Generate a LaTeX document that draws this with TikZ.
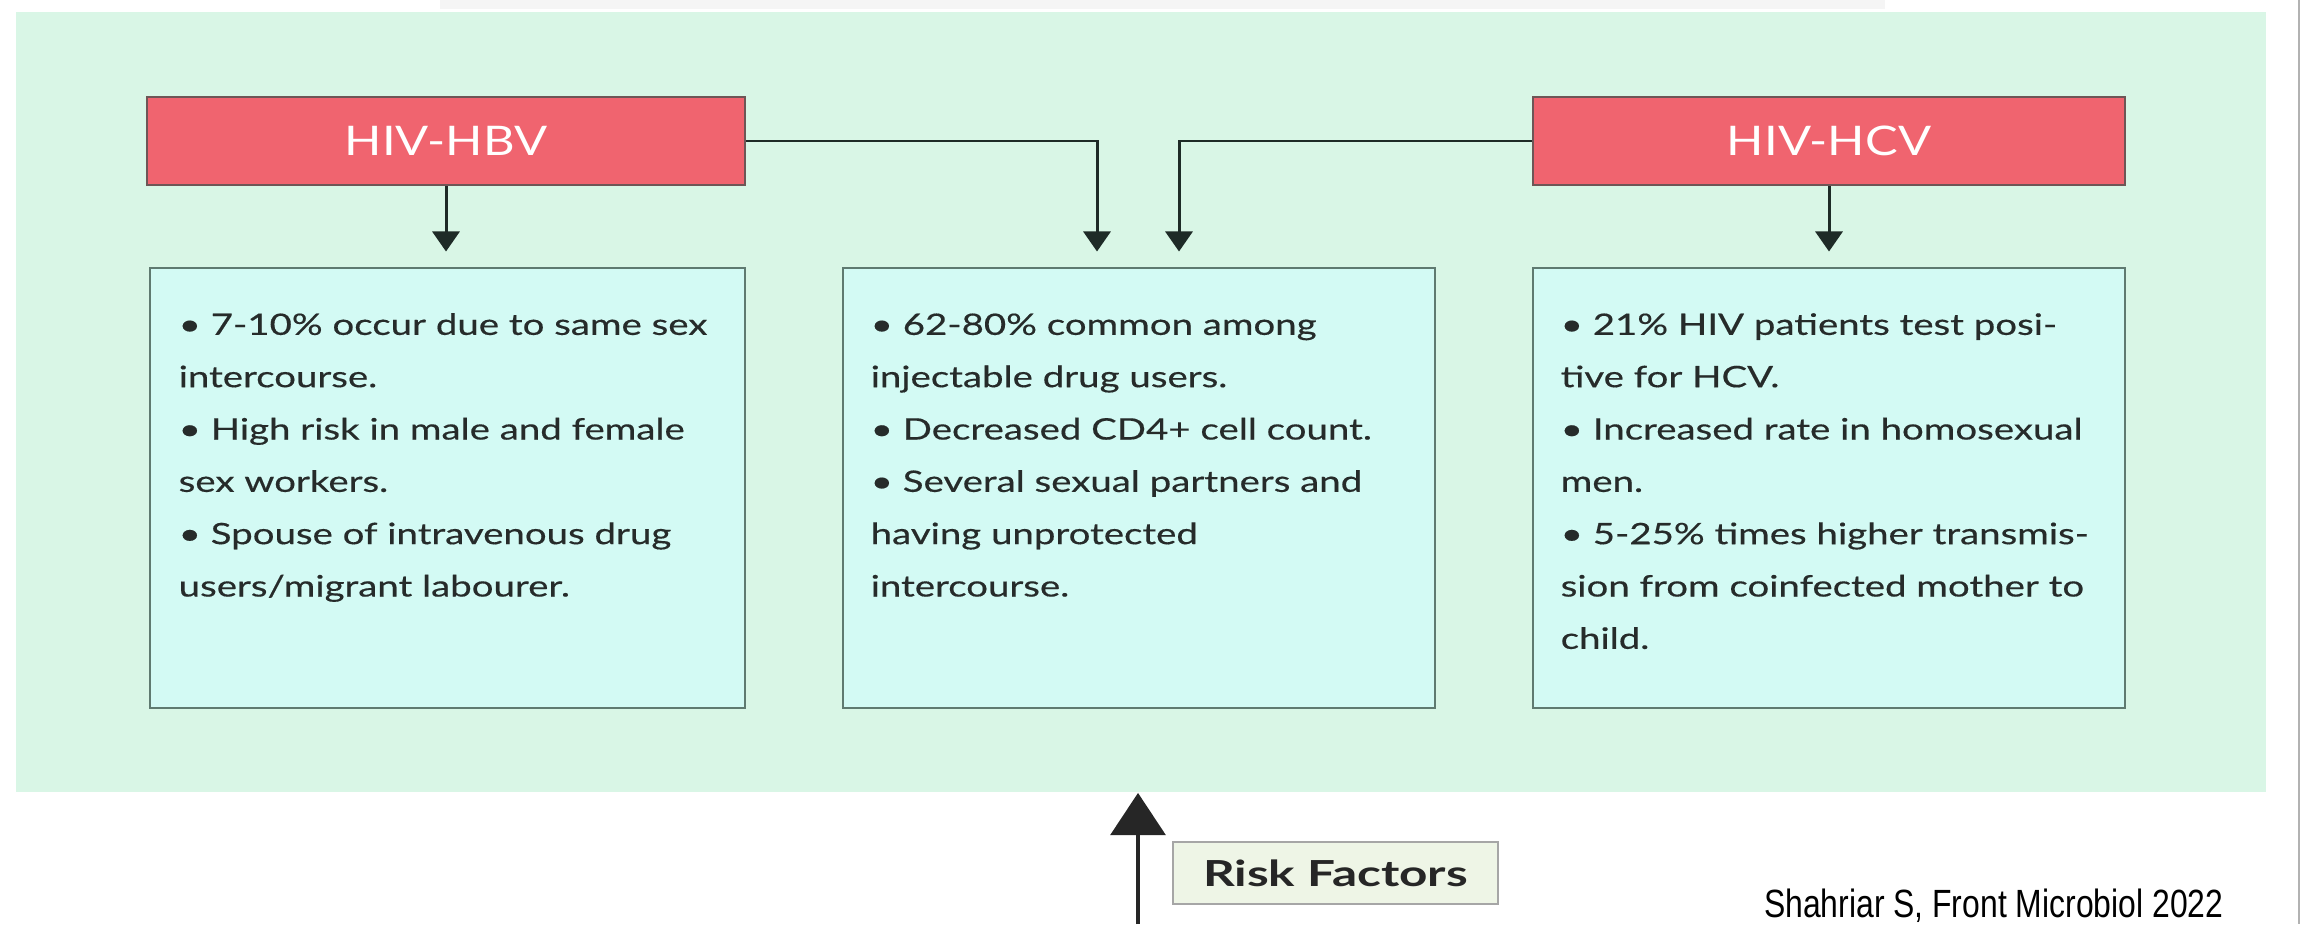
\documentclass[tikz,border=0pt]{standalone}
\usepackage{fontspec}
\setmainfont{Lato}
\newfontfamily\bodyfont{Lato}[FakeStretch=1.3, FakeBold=0.4]
\newfontfamily\headfont{Lato}[FakeStretch=1.2]
\newfontfamily\riskfont{Lato}[FakeStretch=1.38]
\newfontfamily\citefont{Liberation Sans}[FakeStretch=0.81]
\usetikzlibrary{arrows.meta,calc}
\definecolor{panelc}{HTML}{D9F6E6}
\definecolor{boxc}{HTML}{D3FAF4}
\definecolor{boxline}{HTML}{5F7A70}
\definecolor{redc}{HTML}{F0646F}
\definecolor{redline}{HTML}{6E5656}
\definecolor{linec}{HTML}{1E2B27}
\definecolor{txtc}{HTML}{262B2A}
\definecolor{riskc}{HTML}{EEF5E6}
\tikzset{
  panelbox/.style={draw=none, fill=panelc, minimum width=22.48cm, minimum height=7.80cm, inner sep=0pt},
  headbox/.style={draw=redline, line width=0.6pt, fill=redc, minimum height=0.88cm, inner sep=0pt, text=white, font=\headfont\fontsize{11.6pt}{14pt}\selectfont},
  infobox/.style={draw=boxline, line width=0.7pt, fill=boxc, minimum height=4.40cm, minimum width=5.92cm, inner sep=0pt},
  infotext/.style={anchor=north west, inner sep=0pt, align=left, text=txtc, font=\bodyfont\fontsize{8.4pt}{14.88pt}\selectfont},
  conn/.style={draw=linec, line width=0.85pt, -{Triangle[width=7.7pt,length=5.7pt]}},
  riskarrow/.style={draw=black!85, line width=1.1pt, -{Triangle[width=15.6pt,length=12pt]}},
  riskbox/.style={draw=gray!70, line width=0.6pt, fill=riskc, minimum width=3.25cm, minimum height=0.62cm, inner sep=0pt, text=black!85, font=\riskfont\fontsize{10.2pt}{12pt}\selectfont\bfseries},
  citebox/.style={anchor=base east, inner sep=0pt, text=black, font=\citefont\fontsize{11.2pt}{13pt}\selectfont}
}
\begin{document}
\begin{tikzpicture}[x=0.01cm,y=-0.01cm]
\useasboundingbox (0,0) rectangle (2303,924);
\fill[white] (0,0) rectangle (2303,924);
\fill[gray!8] (440,0) rectangle (1885,9);
\draw[gray!60, line width=0.5pt] (2299,0) -- (2299,924);

\node[panelbox] (panel) at (1141,402) {};

\node[headbox, minimum width=5.98cm] (hbv) at (446,141) {HIV-HBV};
\node[headbox, minimum width=5.92cm] (hcv) at (1829,141) {HIV-HCV};

\node[infobox, minimum width=5.95cm] (boxL) at (447.5,488) {};
\node[infobox] (boxM) at (1139,488) {};
\node[infobox] (boxR) at (1829,488) {};

\node[infotext] (tL) at (178,299) {\rule{0pt}{10pt}• 7-10\% occur due to same sex\\intercourse.\\• High risk in male and female\\sex workers.\\• Spouse of intravenous drug\\users/migrant labourer.};
\node[infotext] (tM) at (870,299) {\rule{0pt}{10pt}• 62-80\% common among\\injectable drug users.\\• Decreased CD4+ cell count.\\• Several sexual partners and\\having unprotected\\intercourse.};
\node[infotext] (tR) at (1560,299) {\rule{0pt}{10pt}• 21\% HIV patients test posi-\\tive for HCV.\\• Increased rate in homosexual\\men.\\• 5-25\% times higher transmis-\\sion from coinfected mother to\\child.};

\coordinate (mL) at ($(boxM.north)+(-42,0)$);
\coordinate (mR) at ($(boxM.north)+(40,0)$);
\draw[conn, shorten >=4.3pt] (hbv.south) -- (hbv.south |- boxL.north);
\draw[conn, shorten >=4.3pt] (hcv.south) -- (hcv.south |- boxR.north);
\draw[conn, shorten >=4.3pt] (hbv.east) -| (mL);
\draw[conn, shorten >=4.3pt] (hcv.west) -| (mR);

\coordinate (rbot) at (1138,924);
\draw[riskarrow] (rbot) -- (rbot |- panel.south);
\node[riskbox] (risk) at (1335.5,873) {Risk Factors};
\node[citebox] (cite) at (2224,917) {Shahriar S, Front Microbiol 2022};
\end{tikzpicture}
\end{document}
